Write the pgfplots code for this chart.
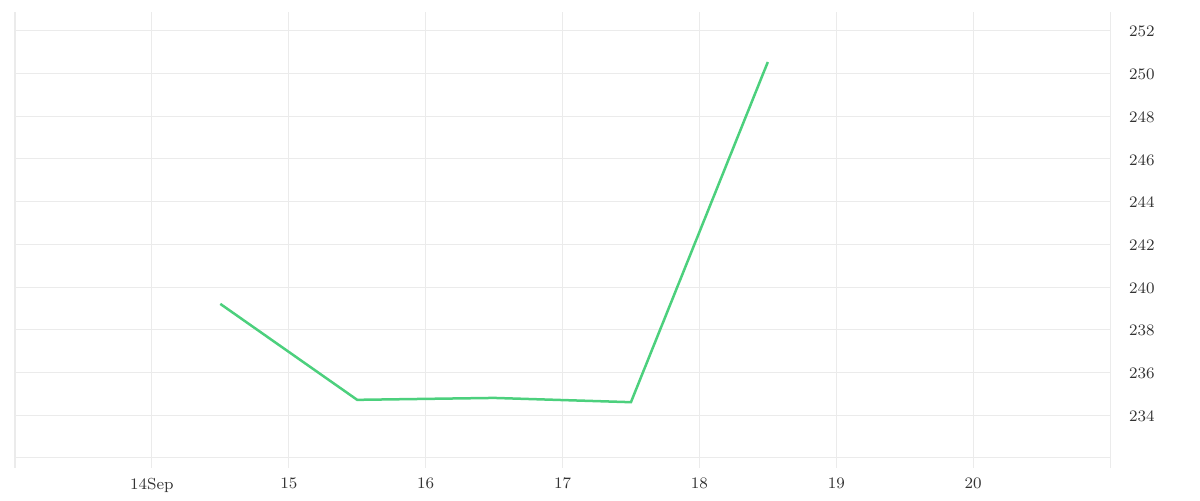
\documentclass[border=0pt]{standalone}
\usepackage{pgfplots}
\pgfplotsset{compat=1.18}
\definecolor{gridgray}{HTML}{EBEBEB}
\definecolor{textgray}{HTML}{333333}
\definecolor{linegreen}{HTML}{4CD07D}
\begin{document}
\begin{tikzpicture}
  % 1 px of the reference = 0.5pt
  \useasboundingbox (-7.5pt,-16pt) rectangle (592.5pt,234pt);
  \begin{axis}[
    scale only axis,
    width = 547.5pt,
    height = 228pt,
    xmin = 13, xmax = 21,
    ymin = 231.53, ymax = 252.87,
    xtick = {13,...,21},
    xticklabels = {,14Sep,15,16,17,18,19,20,},
    ytick = {232,234,...,252},
    yticklabels = {,234,236,238,240,242,244,246,248,250,252},
    yticklabel pos = right,
    grid = major,
    major grid style = {color = gridgray, line width = 0.5pt},
    axis line style = {draw = none},
    tick style = {draw = none},
    ticklabel style = {font = \fontsize{8}{9}\selectfont, text = textgray},
    yticklabel style = {xshift = 6pt, yshift = -0.5pt},
    xticklabel style = {yshift = -1.5pt},
  ]
    \addplot[color = linegreen, line width = 1.25pt, mark = none]
      coordinates { (14.5,239.21) (15.5,234.72) (16.5,234.81) (17.5,234.61) (18.5,250.53) };
  \end{axis}
\end{tikzpicture}
\end{document}
